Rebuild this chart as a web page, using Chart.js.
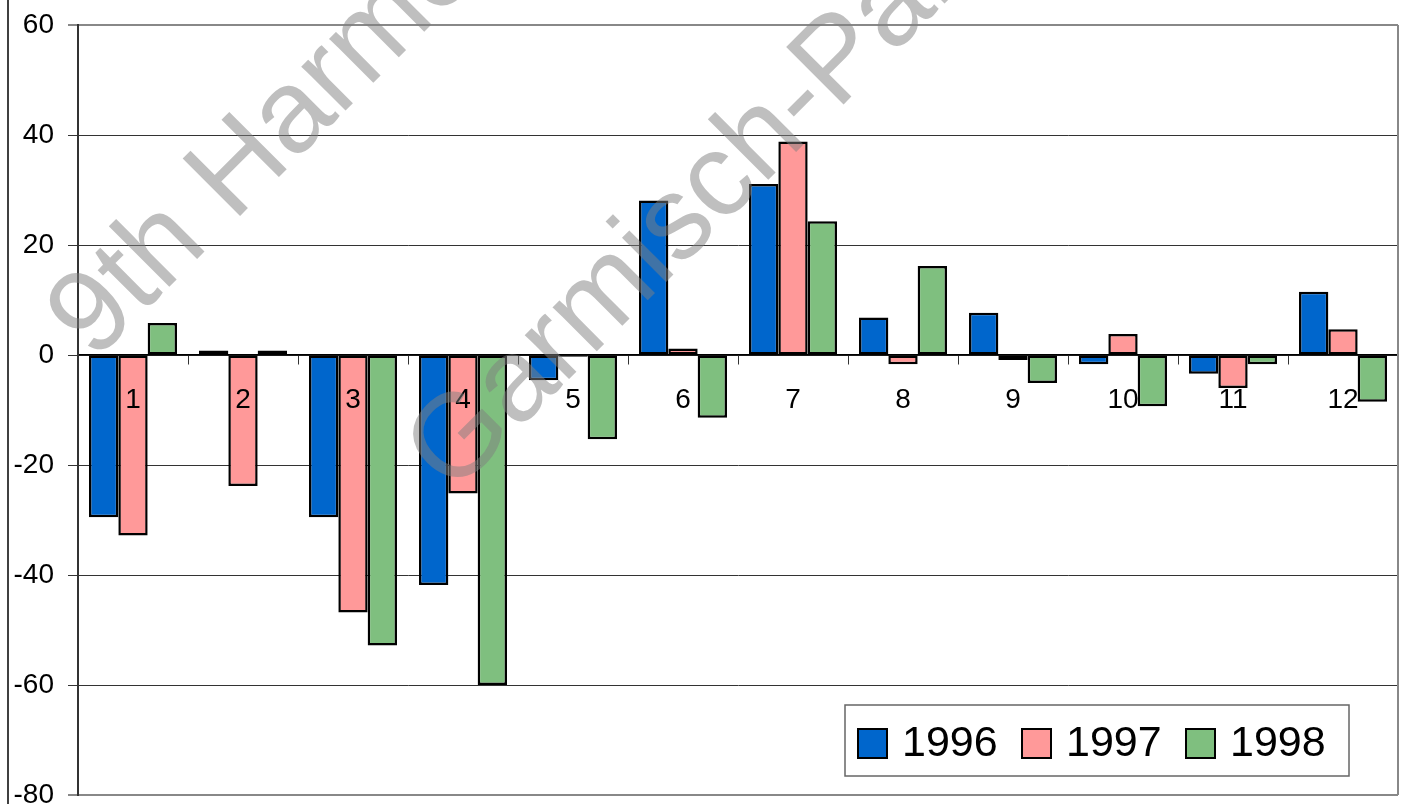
<!DOCTYPE html>
<html>
<head>
<meta charset="utf-8">
<script src="https://cdn.jsdelivr.net/npm/chart.js@4.4.1/dist/chart.umd.min.js"></script>
<style>
  html, body { margin: 0; padding: 0; background: #fff; }
  #wrap { width: 1406px; height: 804px; }
</style>
</head>
<body>
<div id="wrap"><canvas id="myChart" width="1406" height="804"></canvas></div>
<script>
// chart values
var months = ['1', '2', '3', '4', '5', '6', '7', '8', '9', '10', '11', '12'];
var years = ['1996', '1997', '1998'];
var values1996 = [-29.5, 0.8, -29.5, -41.8, -4.6, 28.1, 31.1, 6.8, 7.7, -1.7, -3.4, 11.5];
var values1997 = [-32.8, -23.8, -46.8, -25.2, -0.3, 1.2, 38.8, -1.7, -0.9, 3.8, -6.0, 4.7];
var values1998 = [5.8, 0.8, -52.8, -60.0, -15.3, -11.4, 24.3, 16.2, -5.1, -9.3, -1.7, -8.5];
var colors = ['#0066CC', '#FF9999', '#7FBF7F'];
var yMin = -80;
var yMax = 60;
var yStep = 20;
var watermark = ['9th Harmonisation', 'Garmisch-Partenkirchen'];

var FONT = '"Liberation Sans", Arial, sans-serif';
Chart.defaults.font.family = FONT;

// black frame line on the left, gray border on the right of the plot
var frame = {
  id: 'frame',
  beforeDraw: function(chart) {
    var ctx = chart.ctx;
    ctx.save();
    ctx.fillStyle = '#fff';
    ctx.fillRect(0, 0, chart.width, chart.height);
    ctx.strokeStyle = '#000';
    ctx.lineWidth = 1.5;
    ctx.beginPath();
    ctx.moveTo(8, 0);
    ctx.lineTo(8, chart.height);
    ctx.stroke();
    ctx.restore();
  },
  afterDatasetsDraw: function(chart) {
    var a = chart.chartArea;
    var ctx = chart.ctx;
    ctx.save();
    ctx.strokeStyle = '#888';
    ctx.lineWidth = 2;
    ctx.beginPath();
    ctx.moveTo(a.right, a.top);
    ctx.lineTo(a.right, a.bottom);
    ctx.stroke();
    ctx.restore();
  }
};

// legend box in the lower right corner
var legendBox = {
  id: 'legendBox',
  afterDraw: function(chart) {
    var ctx = chart.ctx;
    ctx.save();
    ctx.fillStyle = '#fff';
    ctx.fillRect(845, 705, 504, 71);
    ctx.strokeStyle = '#666';
    ctx.lineWidth = 1.5;
    ctx.strokeRect(845, 705, 504, 71);
    ctx.font = '43px ' + FONT;
    ctx.textBaseline = 'alphabetic';
    ctx.textAlign = 'left';
    var x = 858;
    chart.data.datasets.forEach(function(ds) {
      ctx.fillStyle = ds.backgroundColor;
      ctx.fillRect(x, 729, 29, 29);
      ctx.strokeStyle = '#000';
      ctx.lineWidth = 2;
      ctx.strokeRect(x, 729, 29, 29);
      ctx.fillStyle = '#000';
      ctx.fillText(ds.label, x + 44, 756);
      x += 164;
    });
    ctx.restore();
  }
};

// gray watermark text across the chart
var stamp = {
  id: 'stamp',
  afterDraw: function(chart) {
    var ctx = chart.ctx;
    var origins = [[94, 362], [452, 496]];
    ctx.save();
    ctx.font = '118px ' + FONT;
    ctx.fillStyle = 'rgba(128,128,128,0.5)';
    ctx.textBaseline = 'alphabetic';
    watermark.forEach(function(txt, i) {
      ctx.save();
      ctx.translate(origins[i][0], origins[i][1]);
      ctx.rotate(-Math.PI / 4);
      ctx.fillText(txt, 0, 0);
      ctx.restore();
    });
    ctx.restore();
  }
};

var data = {
  labels: months,
  datasets: [
    { label: years[0], data: values1996, backgroundColor: colors[0] },
    { label: years[1], data: values1997, backgroundColor: colors[1] },
    { label: years[2], data: values1998, backgroundColor: colors[2] }
  ].map(function(ds) {
    ds.borderColor = '#000';
    ds.borderWidth = 2.5;
    ds.borderSkipped = false;
    ds.categoryPercentage = 0.8;
    ds.barPercentage = 1.0;
    return ds;
  })
};

var config = {
  type: 'bar',
  data: data,
  options: {
    responsive: false,
    animation: false,
    devicePixelRatio: 1,
    layout: { padding: { top: 25, right: 8, bottom: 9, left: 0 } },
    plugins: {
      legend: { display: false },
      tooltip: { enabled: false }
    },
    scales: {
      x: {
        position: { y: 0 },
        offset: true,
        grid: { offset: true, drawOnChartArea: false, tickLength: 9, color: '#333', lineWidth: 1 },
        border: { display: true, color: '#000', width: 1.5 },
        ticks: { z: 1, color: '#000', font: { size: 28 }, padding: 19, autoSkip: false, maxRotation: 0 },
        afterFit: function(scale) {
          scale.paddingLeft = 0;
          scale.paddingRight = 0;
        }
      },
      y: {
        min: yMin,
        max: yMax,
        ticks: { stepSize: yStep, color: '#000', font: { size: 28 }, padding: 14 },
        grid: {
          tickLength: 10,
          color: function(c) { return (c.tick && (c.tick.value === yMax || c.tick.value === yMin)) ? '#888' : '#333'; },
          lineWidth: function(c) { return (c.tick && (c.tick.value === yMax || c.tick.value === yMin)) ? 2 : 1; }
        },
        border: { color: '#333', width: 2 },
        afterFit: function(scale) {
          scale.width = 78;
          scale.paddingTop = 0;
          scale.paddingBottom = 0;
        }
      }
    }
  },
  plugins: [frame, legendBox, stamp]
};

const myChart = new Chart(document.getElementById('myChart'), config);
</script>
</body>
</html>
